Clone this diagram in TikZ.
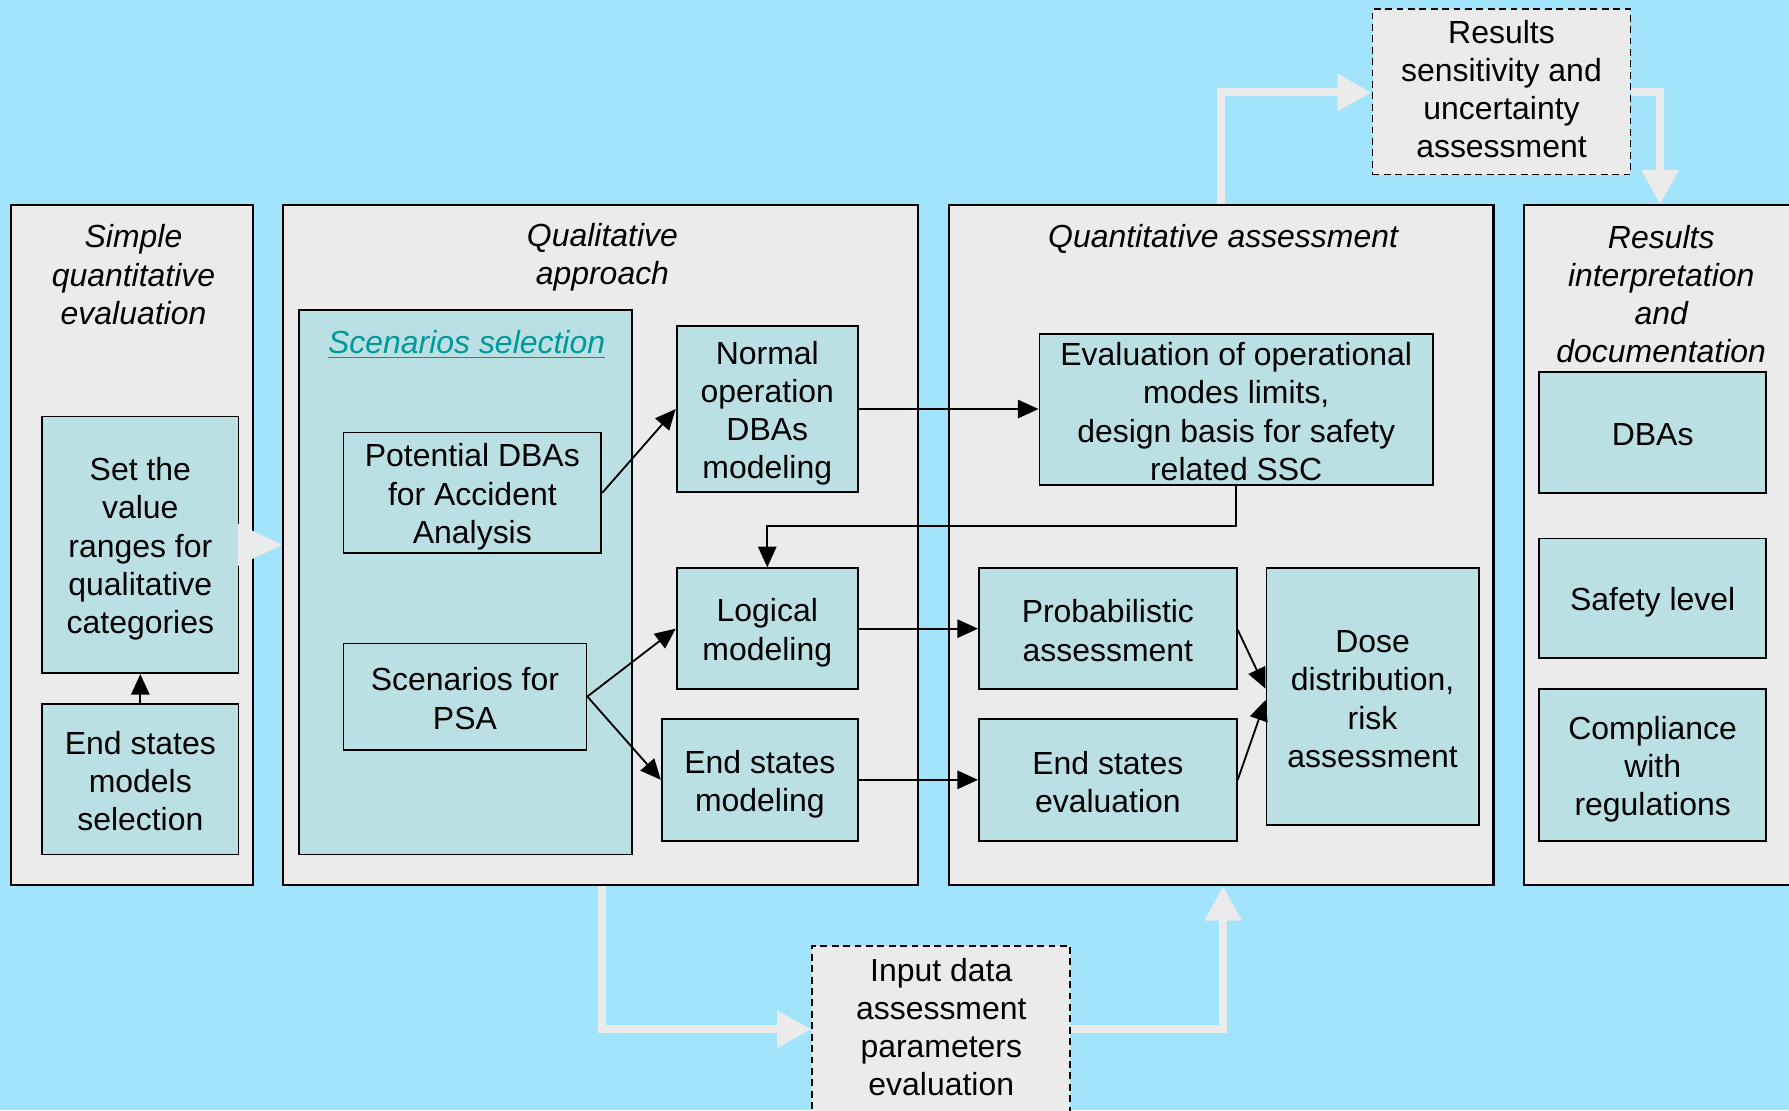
\documentclass[tikz,border=0pt]{standalone}
\usepackage{fontspec}
\setmainfont{Liberation Sans}
\usetikzlibrary{arrows.meta}
\definecolor{skyback}{RGB}{162,228,251}
\definecolor{panelgray}{RGB}{235,235,235}
\definecolor{boxteal}{RGB}{186,224,228}
\definecolor{titleteal}{RGB}{0,153,153}
% fixed top and bottom struts so every text block sits evenly in its box
\newcommand{\bxt}[1]{\rule{0pt}{13.7pt}#1\rule[-2pt]{0pt}{0pt}}
\begin{document}
\begin{tikzpicture}[x=0.5pt,y=-0.5pt,
  every node/.style={font=\fontsize{14}{16.75}\selectfont, align=center, inner sep=0pt},
  panel/.style={draw=black, line width=0.9pt, fill=panelgray},
  procbox/.style={draw=black, line width=0.8pt, fill=boxteal},
  plainbox/.style={draw=black, line width=0.8pt},
  dashbox/.style={draw=black, line width=0.8pt, fill=panelgray, dash pattern=on 3pt off 2pt},
  heading/.style={font=\fontsize{14}{16.75}\selectfont\itshape},
  flow/.style={-{Triangle[length=9pt,width=8pt]}, line width=0.8pt, draw=black},
  bigflow/.style={-{Triangle[length=15pt,width=15.5pt]}, line width=3.5pt, draw=panelgray},
]
% page and background
\useasboundingbox (0,0) rectangle (1568,973);
\fill[skyback] (0,0) rectangle (1568,973);

% four stage panels
\node[panel, minimum width=106pt, minimum height=298pt] (panel1) at (116,478) {};
\node[panel, minimum width=278.5pt, minimum height=298pt] (panel2) at (526.5,478) {};
\node[panel, minimum width=238.5pt, minimum height=298pt] (panel3) at (1070.5,478) {};
\node[panel, minimum width=122pt, minimum height=298pt] (panel4) at (1458,478) {};

% panel headings
\node[heading] (head1) at (117,239) {\bxt{Simple\\quantitative\\evaluation}};
\node[heading] (head2) at (528,222) {\bxt{Qualitative\\approach}};
\node[heading] (head3) at (1072,205.5) {\bxt{Quantitative assessment}};
\node[heading] (head4) at (1456,256) {\bxt{Results\\interpretation\\and\\documentation}};

% simple quantitative evaluation
\node[procbox, minimum width=86pt, minimum height=112.5pt] (set) at (123,477.5)
  {\bxt{Set the\\value\\ranges for\\qualitative\\categories}};
\node[procbox, minimum width=86pt, minimum height=66pt] (endsel) at (123,683)
  {\bxt{End states\\models\\selection}};
\draw[flow] (endsel.north) -- (set.south);

% transfer to the qualitative approach
\fill[panelgray] ([xshift=-0.6pt,yshift=9.25pt]set.east) -- (set.east -| panel2.west)
  -- ([xshift=-0.6pt,yshift=-9.25pt]set.east) -- cycle;

% qualitative approach
\node[procbox, minimum width=146pt, minimum height=238.5pt] (scen) at (408,510.5) {};
\node (scentitle) at (409,298.5) {\bxt{\color{titleteal}\itshape\underline{Scenarios selection}}};
\node[plainbox, minimum width=113pt, minimum height=53pt] (pot) at (414,432)
  {\bxt{Potential DBAs\\for Accident\\Analysis}};
\node[plainbox, minimum width=106.5pt, minimum height=46.5pt] (psa) at (407.5,610.5)
  {\bxt{Scenarios for\\PSA}};
\node[procbox, minimum width=79.5pt, minimum height=72.5pt] (normal) at (672.5,358.5)
  {\bxt{Normal\\operation\\DBAs\\modeling}};
\node[procbox, minimum width=79.5pt, minimum height=53pt] (logical) at (672.5,551)
  {\bxt{Logical\\modeling}};
\node[procbox, minimum width=86pt, minimum height=53.5pt] (endmod) at (666,683.5)
  {\bxt{End states\\modeling}};

% quantitative assessment
\node[procbox, minimum width=172.5pt, minimum height=66pt] (eval) at (1083.5,359)
  {\bxt{Evaluation of operational\\modes limits,\\design basis for safety\\related SSC}};
\node[procbox, minimum width=113pt, minimum height=53pt] (prob) at (971,551)
  {\bxt{Probabilistic\\assessment}};
\node[procbox, minimum width=113pt, minimum height=53.5pt] (endeval) at (971,683.5)
  {\bxt{End states\\evaluation}};
\node[procbox, minimum width=93pt, minimum height=112.5pt] (dose) at (1203,610.5)
  {\bxt{Dose\\distribution,\\risk\\assessment}};

% results interpretation and documentation
\node[procbox, minimum width=99.5pt, minimum height=53pt] (dbas) at (1448.5,379) {\bxt{DBAs}};
\node[procbox, minimum width=99.5pt, minimum height=52.5pt] (safety) at (1448.5,524.5) {\bxt{Safety level}};
\node[procbox, minimum width=99.5pt, minimum height=66.5pt] (comply) at (1448.5,670.5)
  {\bxt{Compliance\\with\\regulations}};

% side activities
\node[dashbox, minimum width=113pt, minimum height=72.5pt] (results) at (1316,80.5) {};
\node (resultstxt) at (1316,76.5) {\bxt{Results\\sensitivity and\\uncertainty\\assessment}};
\node[dashbox, minimum width=113pt, minimum height=85.5pt] (input) at (825,914.5) {};
\node (inputtxt) at (825,898.5) {\bxt{Input data\\assessment\\parameters\\evaluation}};

% internal connectors
\draw[flow] (pot.east) -- (normal.west);
\draw[flow] (psa.east) -- (logical.west);
\draw[flow] (psa.east) -- (endmod.west);
\draw[flow] (normal.east) -- (normal.east -| eval.west);
\draw[flow] (eval.south) -- (eval.south |- 0,461) -| (logical.north);
\draw[flow] (logical.east) -- (prob.west);
\draw[flow] (endmod.east) -- (endeval.west);
\draw[flow] ([yshift=-0.5pt]prob.east) -- ([yshift=3.5pt]dose.west);
\draw[flow] (endeval.east) -- ([yshift=-1.5pt]dose.west);

% broad flows between stages
\draw[bigflow] (panel3.north) |- (results.west |- 0,81);
\draw[bigflow] (results.east |- 0,81) -| ([xshift=-1.5pt]panel4.north);
\draw[bigflow] ([xshift=0.75pt]panel2.south) |- (input.west |- 0,902);
\draw[bigflow] (input.east |- 0,902) -| ([xshift=0.75pt]panel3.south);
\end{tikzpicture}
\end{document}
